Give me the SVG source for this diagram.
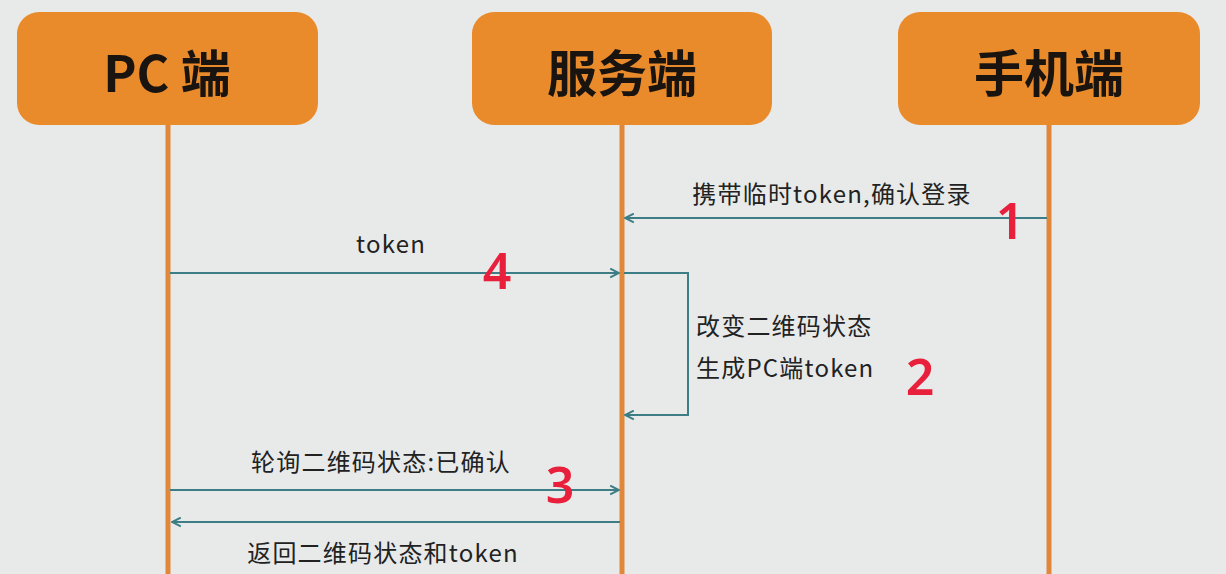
<svg xmlns="http://www.w3.org/2000/svg" width="1226" height="574" viewBox="0 0 1226 574">
  <defs>
    <marker id="arr" viewBox="0 0 10 10" refX="9" refY="5" markerWidth="11" markerHeight="11" markerUnits="userSpaceOnUse" orient="auto">
      <path d="M1,1 L9,5 L1,9" fill="none" stroke="#3d7d86" stroke-width="1.8"/>
    </marker>
  </defs>
  <style>
    .box{fill:#e98a2b;}
    .title{font-family:"Noto Sans CJK SC","Noto Sans",sans-serif;font-weight:bold;font-size:50px;fill:#1a1410;text-anchor:middle;dominant-baseline:central;}
    .life{stroke:#e0873a;stroke-width:5;fill:none;}
    .msg{stroke:#3d7d86;stroke-width:2;fill:none;marker-end:url(#arr);}
    .lbl{font-family:"Noto Sans CJK SC","Noto Sans",sans-serif;font-size:24px;letter-spacing:1.2px;fill:#222;}
    .num{font-family:"Noto Sans","DejaVu Sans",sans-serif;font-weight:600;font-size:50px;fill:#e8203c;text-anchor:middle;dominant-baseline:central;}
  </style>
  <rect width="1226" height="574" fill="#e8eaea"/>
  <g id="lifelines">
    <line class="life" x1="168" y1="120" x2="168" y2="574"/>
    <line class="life" x1="622" y1="120" x2="622" y2="574"/>
    <line class="life" x1="1049" y1="120" x2="1049" y2="574"/>
  </g>
  <g id="pc">
    <rect class="box" x="17" y="12" width="301" height="113" rx="22"/>
    <text class="title" x="167" y="70">PC 端</text>
  </g>
  <g id="server">
    <rect class="box" x="472" y="12" width="300" height="113" rx="22"/>
    <text class="title" x="622" y="70">服务端</text>
  </g>
  <g id="mobile">
    <rect class="box" x="898" y="12" width="302" height="113" rx="22"/>
    <text class="title" x="1049" y="70">手机端</text>
  </g>
  <g id="connectors">
    <line class="msg" x1="1047" y1="218" x2="625" y2="218"/>
    <line class="msg" x1="170" y1="273" x2="619" y2="273"/>
    <polyline class="msg" points="624,273 688,273 688,415 625,415"/>
    <line class="msg" x1="170" y1="490" x2="619" y2="490"/>
    <line class="msg" x1="620" y1="522" x2="172" y2="522"/>
  </g>
  <g id="labels">
    <text class="lbl" x="832" y="203" text-anchor="middle">携带临时token,确认登录</text>
    <text class="lbl" x="391" y="253" text-anchor="middle">token</text>
    <text class="lbl" x="696" y="335">改变二维码状态</text>
    <text class="lbl" x="696" y="377">生成PC端token</text>
    <text class="lbl" x="381" y="471" text-anchor="middle">轮询二维码状态:已确认</text>
    <text class="lbl" x="383" y="562" text-anchor="middle">返回二维码状态和token</text>
  </g>
  <g id="numbers">
    <text class="num" x="1010" y="220">1</text>
    <text class="num" x="920" y="376">2</text>
    <text class="num" x="560" y="484">3</text>
    <text class="num" x="497" y="270">4</text>
  </g>
</svg>
